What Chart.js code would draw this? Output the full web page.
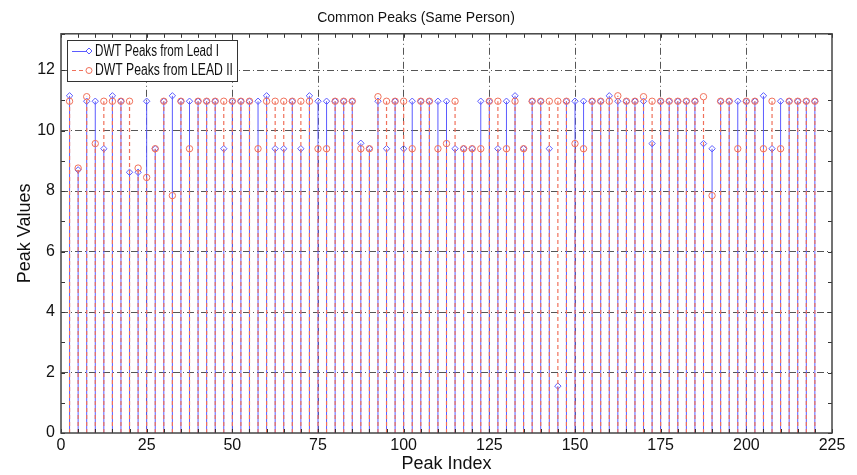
<!DOCTYPE html>
<html>
<head>
<meta charset="utf-8">
<script src="https://cdn.jsdelivr.net/npm/chart.js@4/dist/chart.umd.min.js"></script>
<style>
  html, body { margin: 0; padding: 0; background: #fff; }
  #wrap { width: 857px; height: 475px; }
</style>
</head>
<body>
<div id="wrap"><canvas id="peaks"></canvas></div>
<script>
// Peak positions (x) and peak heights for both leads
const peakIndex = [
  2.5, 5, 7.5, 10, 12.5, 15, 17.5, 20, 22.5, 25,
  27.5, 30, 32.5, 35, 37.5, 40, 42.5, 45, 47.5, 50,
  52.5, 55, 57.5, 60, 62.5, 65, 67.5, 70, 72.5, 75,
  77.5, 80, 82.5, 85, 87.5, 90, 92.5, 95, 97.5, 100,
  102.5, 105, 107.5, 110, 112.5, 115, 117.5, 120, 122.5, 125,
  127.5, 130, 132.5, 135, 137.5, 140, 142.5, 145, 147.5, 150,
  152.5, 155, 157.5, 160, 162.5, 165, 167.5, 170, 172.5, 175,
  177.5, 180, 182.5, 185, 187.5, 190, 192.5, 195, 197.5, 200,
  202.5, 205, 207.5, 210, 212.5, 215, 217.5, 220
];
const leadIPeaks = [
  11.15, 8.7, 10.97, 10.97, 9.4, 11.15, 10.97, 8.62, 8.62, 10.97,
  9.4, 10.97, 11.15, 10.97, 10.97, 10.97, 10.97, 10.97, 9.4, 10.97,
  10.97, 10.97, 10.97, 11.15, 9.4, 9.4, 10.97, 9.4, 11.15, 10.97,
  10.97, 10.97, 10.97, 10.97, 9.58, 9.4, 10.97, 9.4, 10.97, 9.4,
  10.97, 10.97, 10.97, 10.97, 10.97, 9.4, 9.4, 9.4, 10.97, 10.97,
  9.4, 10.97, 11.15, 9.4, 10.97, 10.97, 9.4, 1.55, 10.97, 10.97,
  10.97, 10.97, 10.97, 11.15, 10.97, 10.97, 10.97, 10.97, 9.57, 10.97,
  10.97, 10.97, 10.97, 10.97, 9.57, 9.4, 10.97, 10.97, 10.97, 10.97,
  10.97, 11.15, 9.4, 10.97, 10.97, 10.97, 10.97, 10.97
];
const leadIIPeaks = [
  10.97, 8.76, 11.12, 9.57, 10.97, 10.97, 10.97, 10.97, 8.76, 8.45,
  9.4, 10.97, 7.85, 10.97, 9.4, 10.97, 10.97, 10.97, 10.97, 10.97,
  10.97, 10.97, 9.4, 10.97, 10.97, 10.97, 10.97, 10.97, 10.97, 9.4,
  9.4, 10.97, 10.97, 10.97, 9.4, 9.4, 11.12, 10.97, 10.97, 10.97,
  9.4, 10.97, 10.97, 9.4, 9.57, 10.97, 9.4, 9.4, 9.4, 10.97,
  10.97, 9.4, 10.97, 9.4, 10.97, 10.97, 10.97, 10.97, 10.97, 9.57,
  9.4, 10.97, 10.97, 10.97, 11.15, 10.97, 10.97, 11.12, 10.97, 10.97,
  10.97, 10.97, 10.97, 10.97, 11.12, 7.85, 10.97, 10.97, 9.4, 10.97,
  10.97, 9.4, 10.97, 9.4, 10.97, 10.97, 10.97, 10.97
];
const seriesNames = ["DWT Peaks from Lead I", "DWT Peaks from LEAD II"];

const BLUE = "#5b5bff";
const RED = "#f0705a";
const SANS = "'Liberation Sans', Arial, sans-serif";

// stem plot: each peak becomes (x,0) -> (x,v) then a gap
const toStems = (xs, ys) => {
  const pts = [];
  xs.forEach((x, i) => {
    pts.push({ x: x, y: 0 });
    pts.push({ x: x, y: ys[i], top: true });
    pts.push({ x: x, y: null });
  });
  return pts;
};

// box, inward tick marks and the legend box inside the plot
const stemDecor = {
  id: "stemDecor",
  afterDraw(chart) {
    const { ctx, chartArea: a, scales: { x, y } } = chart;
    ctx.save();
    ctx.strokeStyle = "#333";
    ctx.lineWidth = 1;
    ctx.setLineDash([]);
    ctx.beginPath();
    x.ticks.forEach((t) => {
      const px = Math.round(x.getPixelForValue(t.value)) + 0.5;
      ctx.moveTo(px, a.bottom); ctx.lineTo(px, a.bottom - 4);
      ctx.moveTo(px, a.top); ctx.lineTo(px, a.top + 4);
    });
    y.ticks.forEach((t) => {
      const py = Math.round(y.getPixelForValue(t.value)) + 0.5;
      ctx.moveTo(a.left, py); ctx.lineTo(a.left + 4, py);
      ctx.moveTo(a.right, py); ctx.lineTo(a.right - 4, py);
    });
    ctx.stroke();

    ctx.strokeStyle = "#444";
    ctx.lineWidth = 1.5;
    ctx.strokeRect(a.left, a.top, a.right - a.left, a.bottom - a.top);

    // legend
    const lx = 67, ly = 40, lw = 170, lh = 41;
    ctx.fillStyle = "#fff";
    ctx.fillRect(lx, ly, lw, lh);
    ctx.lineWidth = 1;
    ctx.strokeStyle = "#333";
    ctx.strokeRect(lx + 0.5, ly + 0.5, lw, lh);

    ctx.font = "16px " + SANS;
    ctx.textBaseline = "middle";
    ctx.fillStyle = "#111";
    const rows = [51, 70];
    const cols = [BLUE, RED];
    const widths = [124, 138];
    rows.forEach((ry, i) => {
      ctx.strokeStyle = cols[i];
      ctx.lineWidth = 1;
      ctx.setLineDash(i === 0 ? [] : [4, 3]);
      ctx.beginPath();
      ctx.moveTo(72, ry + 0.5); ctx.lineTo(86, ry + 0.5);
      ctx.stroke();
      ctx.setLineDash([]);
      ctx.beginPath();
      if (i === 0) {
        ctx.moveTo(89, ry - 3); ctx.lineTo(92, ry); ctx.lineTo(89, ry + 3); ctx.lineTo(86, ry); ctx.closePath();
      } else {
        ctx.arc(89, ry + 0.5, 3, 0, Math.PI * 2);
      }
      ctx.stroke();
      ctx.fillText(seriesNames[i], 95, ry + 1, widths[i]);
    });
    ctx.restore();
  },
};

const ctx = document.getElementById("peaks").getContext("2d");
new Chart(ctx, {
  type: "line",
  data: {
    datasets: [
      {
        label: seriesNames[0],
        data: toStems(peakIndex, leadIPeaks),
        borderColor: BLUE,
        borderWidth: 1,
        pointStyle: "rectRot",
        pointRadius: (c) => (c.raw && c.raw.top ? 3.2 : 0),
        pointBorderColor: BLUE,
        pointBackgroundColor: "rgba(0,0,0,0)",
        pointBorderWidth: 1,
        spanGaps: false,
        tension: 0,
        order: 2,
      },
      {
        label: seriesNames[1],
        data: toStems(peakIndex, leadIIPeaks),
        borderColor: RED,
        borderWidth: 1.2,
        borderDash: [4, 3],
        pointStyle: "circle",
        pointRadius: (c) => (c.raw && c.raw.top ? 3.2 : 0),
        pointBorderColor: RED,
        pointBackgroundColor: "rgba(0,0,0,0)",
        pointBorderWidth: 1,
        spanGaps: false,
        tension: 0,
        order: 1,
      },
    ],
  },
  options: {
    responsive: true,
    maintainAspectRatio: false,
    animation: false,
    layout: { padding: { left: 0, right: 25, top: 0, bottom: 0 } },
    plugins: {
      legend: { display: false },
      tooltip: { enabled: false },
      title: {
        display: true,
        text: "Common Peaks (Same Person)",
        color: "#111",
        font: { family: SANS, size: 14, weight: "normal" },
        padding: { top: 10, bottom: 7 },
      },
    },
    scales: {
      x: {
        type: "linear",
        min: 0,
        max: 225,
        afterFit: (s) => { s.height = 42; },
        ticks: {
          stepSize: 5,
          autoSkip: false,
          maxRotation: 0,
          padding: 3,
          color: "#111",
          font: { family: SANS, size: 16 },
          callback: (v) => (v % 25 === 0 ? v : ""),
        },
        grid: {
          drawTicks: false,
          lineWidth: 1,
          color: (c) => {
            const v = c.tick ? c.tick.value : -1;
            return v % 25 === 0 && v > 0 && v < 225 ? "#555" : "rgba(0,0,0,0)";
          },
        },
        border: { display: false, dash: [7, 3, 1, 3] },
        title: {
          display: true,
          text: "Peak Index",
          color: "#111",
          font: { family: SANS, size: 18 },
          padding: { top: 0, bottom: 0 },
        },
      },
      y: {
        min: 0,
        max: 13.2,
        afterFit: (s) => { s.width = 61; },
        ticks: {
          stepSize: 1,
          autoSkip: false,
          padding: 6,
          color: "#111",
          font: { family: SANS, size: 16 },
          callback: (v) => (Math.abs(v % 2) < 1e-9 ? v : ""),
        },
        grid: {
          drawTicks: false,
          lineWidth: 1,
          color: (c) => {
            const v = c.tick ? c.tick.value : -1;
            return Math.abs(v % 2) < 1e-9 && v > 0 && v < 13 ? "#555" : "rgba(0,0,0,0)";
          },
        },
        border: { display: false, dash: [7, 3, 1, 3] },
        title: {
          display: true,
          text: "Peak Values",
          color: "#111",
          font: { family: SANS, size: 18 },
          padding: { top: 14, bottom: 4 },
        },
      },
    },
  },
  plugins: [stemDecor],
});
</script>
</body>
</html>
